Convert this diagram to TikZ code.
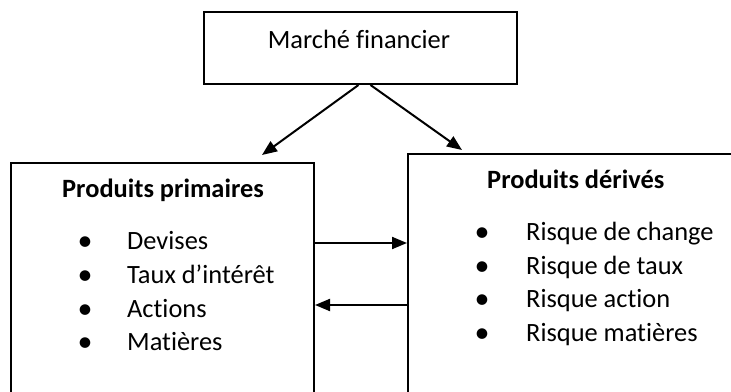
\documentclass[tikz,border=0pt]{standalone}
\usepackage{fontspec}
\setmainfont[Ligatures=NoCommon]{Carlito}
\usetikzlibrary{arrows.meta}
\begin{document}
\begin{tikzpicture}[x=1pt,y=-1pt,
  box/.style={draw=black,line width=2pt,fill=white,rectangle,inner sep=0pt,anchor=north west},
  arr/.style={line width=2pt,-{Triangle[length=15pt,width=12pt]}},
  txt/.style={font=\fontsize{26.4}{31}\selectfont,inner sep=0pt,anchor=base west},
  hd/.style={font=\fontsize{26.4}{31}\selectfont\bfseries,inner sep=0pt,anchor=base west},
  bul/.style={font=\fontsize{30}{31}\selectfont,inner sep=0pt,anchor=base}]
\useasboundingbox (0,0) rectangle (731,391);
\clip (0,0) rectangle (731,391);
% boxes
\node[box,minimum width=313pt,minimum height=72pt] (m) at (203,11) {};
\node[box,minimum width=303pt,minimum height=260pt] (p) at (10,162) {};
\node[box,minimum width=340pt,minimum height=260pt] (d) at (407,153) {};
% top text
\node[txt,anchor=base] (mt) at (359,48) {Marché financier};
% left content
\node[hd] (ph) at (62,197) {Produits primaires};
\node[bul] (pb1) at (85,250) {•};
\node[txt] (p1) at (127,249) {Devises};
\node[bul] (pb2) at (85,284) {•};
\node[txt] (p2) at (127,283) {Taux d’intérêt};
\node[bul] (pb3) at (85,318) {•};
\node[txt] (p3) at (127,317) {Actions};
\node[bul] (pb4) at (85,351) {•};
\node[txt] (p4) at (127,350) {Matières};
% right content
\node[hd] (dh) at (487,188) {Produits dérivés};
\node[bul] (db1) at (482,241) {•};
\node[txt] (d1) at (526,240) {Risque de change};
\node[bul] (db2) at (482,275) {•};
\node[txt] (d2) at (526,274) {Risque de taux};
\node[bul] (db3) at (482,308) {•};
\node[txt] (d3) at (526,307) {Risque action};
\node[bul] (db4) at (482,342) {•};
\node[txt] (d4) at (526,341) {Risque matières};
% arrows
\coordinate (a1) at (262,155);
\coordinate (a2) at (462,150);
\draw[arr] ([xshift=-2pt]m.south) -- (a1);
\draw[arr] ([xshift=10pt]m.south) -- (a2);
\draw[arr] ([yshift=-81pt]p.north east) -- ([yshift=-90pt]d.north west);
\draw[arr] ([yshift=-152pt]d.north west) -- ([yshift=-143pt]p.north east);
\end{tikzpicture}
\end{document}
